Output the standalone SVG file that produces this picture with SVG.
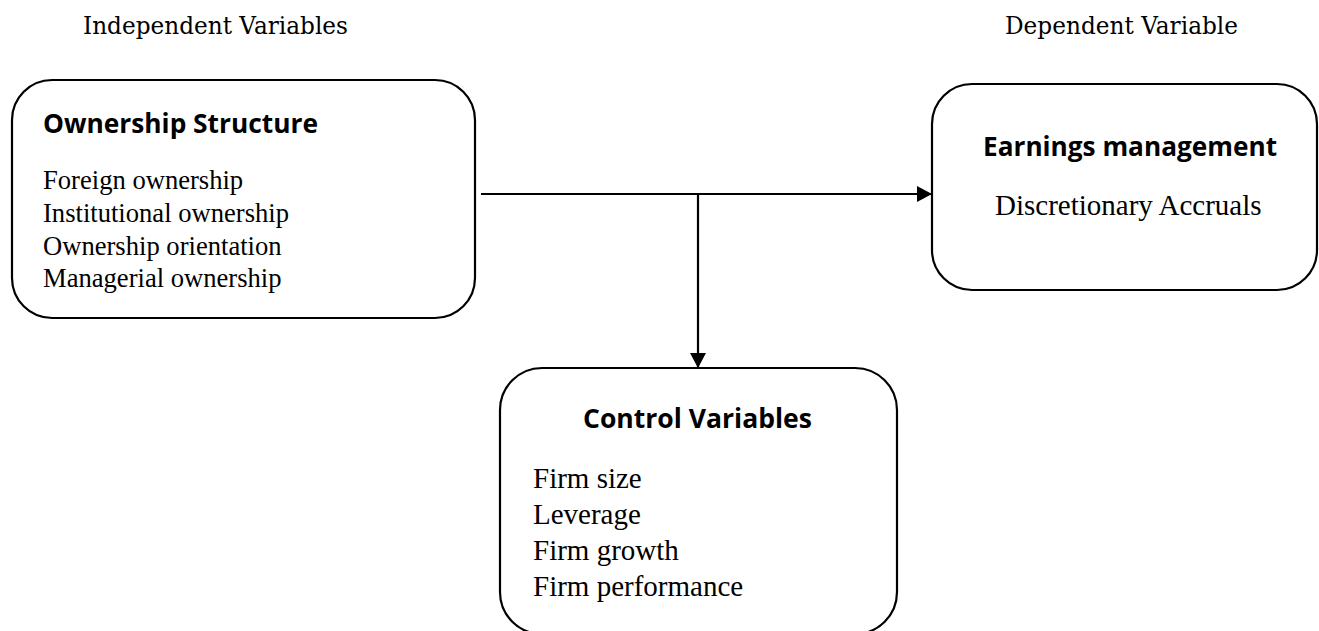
<svg xmlns="http://www.w3.org/2000/svg" width="1319" height="631" viewBox="0 0 1319 631">
<defs>
<style>
.box{fill:#fff;stroke:#000;stroke-width:2.2}
.title{font-family:"Open Sans","Liberation Sans",sans-serif;font-weight:700;font-size:26px;fill:#000}
.body{font-family:"Liberation Serif","Times New Roman",serif;fill:#000}
.head{font-family:"DejaVu Serif","Liberation Serif",serif;font-size:24px;fill:#000}
.line{stroke:#000;stroke-width:2.2;fill:none}
</style>
<marker id="arr" viewBox="0 0 15 16" refX="15" refY="8" markerWidth="15" markerHeight="16" markerUnits="userSpaceOnUse" orient="auto">
<path d="M0,0 L15,8 L0,16 Z" fill="#000"/>
</marker>
</defs>
<rect width="1319" height="631" fill="#fff"/>
<g id="headers">
<text class="head" x="83" y="34" textLength="265" lengthAdjust="spacingAndGlyphs">Independent Variables</text>
<text class="head" x="1005" y="34" textLength="233" lengthAdjust="spacingAndGlyphs">Dependent Variable</text>
</g>
<g id="connectors">
<line class="line" x1="481" y1="194" x2="932" y2="194" marker-end="url(#arr)"/>
<line class="line" x1="698" y1="194" x2="698" y2="368" marker-end="url(#arr)"/>
</g>
<g id="ownership">
<rect class="box" x="12" y="80" width="463" height="238" rx="40" ry="40"/>
<text class="title" x="43" y="133" textLength="275" lengthAdjust="spacingAndGlyphs">Ownership Structure</text>
<text class="body" font-size="26.6" x="43" y="189">Foreign ownership</text>
<text class="body" font-size="26.6" x="43" y="222">Institutional ownership</text>
<text class="body" font-size="26.6" x="43" y="255">Ownership orientation</text>
<text class="body" font-size="26.6" x="43" y="287">Managerial ownership</text>
</g>
<g id="earnings">
<rect class="box" x="932" y="84" width="385" height="206" rx="40" ry="40"/>
<text class="title" x="983" y="156" textLength="294" lengthAdjust="spacingAndGlyphs">Earnings management</text>
<text class="body" font-size="29" x="995" y="215">Discretionary Accruals</text>
</g>
<g id="control">
<rect class="box" x="500" y="368" width="397" height="266" rx="42" ry="42"/>
<text class="title" x="583" y="428" textLength="229" lengthAdjust="spacingAndGlyphs">Control Variables</text>
<text class="body" font-size="29" x="533" y="488">Firm size</text>
<text class="body" font-size="29" x="533" y="524">Leverage</text>
<text class="body" font-size="29" x="533" y="560">Firm growth</text>
<text class="body" font-size="29" x="533" y="596">Firm performance</text>
</g>
</svg>
